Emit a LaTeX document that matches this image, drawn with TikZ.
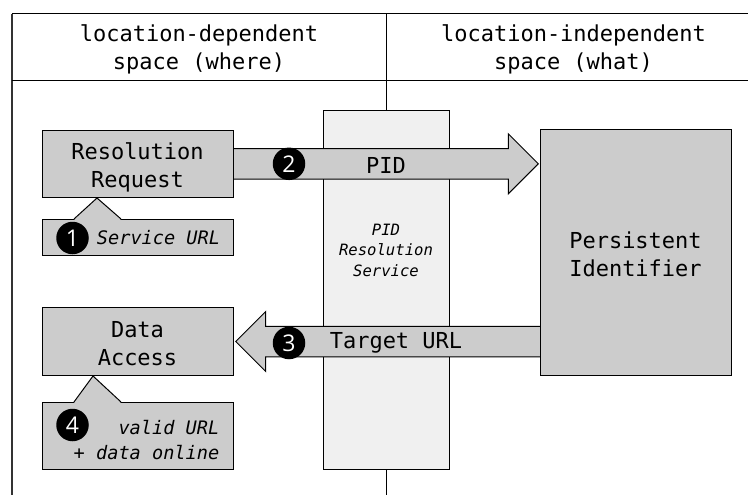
\documentclass[tikz,border=0pt]{standalone}
\usepackage{fontspec}
\setmonofont{DejaVu Sans Mono}
\setsansfont{Open Sans}
\usetikzlibrary{positioning}
\usetikzlibrary{shapes.arrows}
\definecolor{boxgray}{gray}{0.8}
\definecolor{svcgray}{gray}{0.94}
\definecolor{framegray}{gray}{0.2}
\tikzset{
  box/.style={draw=black, rectangle, fill=boxgray, line width=1pt, minimum width=191pt, inner sep=0pt, align=center, font=\fontsize{22}{28}\ttfamily},
  note/.style={box, font=\fontsize{18.6}{25}\ttfamily\itshape},
  head/.style={align=center, font=\fontsize{22}{28}\ttfamily},
  fatarrow/.style={draw=black, fill=boxgray, line width=1pt, single arrow, single arrow tip angle=90, single arrow head extend=14.75pt, inner sep=0pt, text width=0pt, text height=14.75pt, text depth=14.75pt, anchor=tip, minimum height=311pt},
  num/.style={circle, fill=black, text=white, minimum size=32.5pt, inner sep=0pt, font=\fontsize{23}{23}\sffamily},
  label/.style={font=\fontsize{22}{26}\ttfamily}
}
\begin{document}
\begin{tikzpicture}[x=1pt, y=-1pt]
\useasboundingbox (0,0) rectangle (748,495);
% frame
\coordinate (frameTL) at (12,14);
\coordinate (frameTM) at (386,14);
\coordinate (frameTR) at (748,14);
\coordinate (frameML) at (12,81);
\coordinate (frameMR) at (748,81);
\coordinate (frameBL) at (12,495);
\coordinate (frameBM) at (386,495);
\draw[framegray, line width=1.5pt](frameBL)--(frameTL);
\draw[black, line width=1pt](frameTL)--(frameTR);
\draw[black, line width=1pt](frameML)--(frameMR);
\node[head](where) at (199,49.5){location-dependent\\space (where)};
\node[head](what) at (573.5,49.5){location-independent\\space (what)};
% resolver
\node[draw=black, rectangle, fill=svcgray, line width=1pt, minimum width=126pt, minimum height=358pt, inner sep=0pt](pidsvc) at (386,290){};
\draw[black, line width=1pt](frameTM)--(pidsvc.north);
\draw[black, line width=1pt](pidsvc.south)--(frameBM);
\node[align=center, font=\fontsize{15.6}{20.5}\ttfamily\itshape](svclabel) at (386,250){PID\\Resolution\\Service};
% arrows
\node[fatarrow](pid) at (539,163.8){};
\node[fatarrow, shape border rotate=180](target) at (235,341.5){};
\node[label](pidlabel) at (386,165){PID};
\node[label](targetlabel) at (396,343){Target URL};
% boxes
\node[box, minimum height=67.5pt](request) at (137.5,163.8){\rule{0pt}{24pt}Resolution\\Request};
\node[note, minimum height=36pt](service)[below=21pt of request]{\hspace*{42pt}Service URL};
\coordinate (serviceA) at (74,219);
\coordinate (serviceB) at (97,198);
\coordinate (serviceC) at (121,219);
\fill[boxgray](74,220)--(serviceB)--(121,220)--cycle;
\draw[black, line width=1pt](serviceA)--(serviceB)--(serviceC);
\node[box, minimum height=67.5pt](access) at (137.5,341.5){\rule{0pt}{20pt}Data\\Access};
\node[note, minimum height=67pt, align=right](online) at (137.5,435.5){\rule{0pt}{23pt}valid URL\\\hspace*{18pt}+ data online};
\coordinate (onlineA) at (74,402);
\coordinate (onlineB) at (93,376);
\coordinate (onlineC) at (121,402);
\fill[boxgray](74,403)--(onlineB)--(121,403)--cycle;
\draw[black, line width=1pt](onlineA)--(onlineB)--(onlineC);
\node[box, minimum height=245pt](persistent) at (635.5,252.5){\rule{0pt}{20pt}Persistent\\Identifier};
% numbers
\node[num](one) at (72.5,238){1};
\node[num](two) at (289,163.8){2};
\node[num](three) at (289,343){3};
\node[num](four) at (72.5,425){4};
\end{tikzpicture}
\end{document}
